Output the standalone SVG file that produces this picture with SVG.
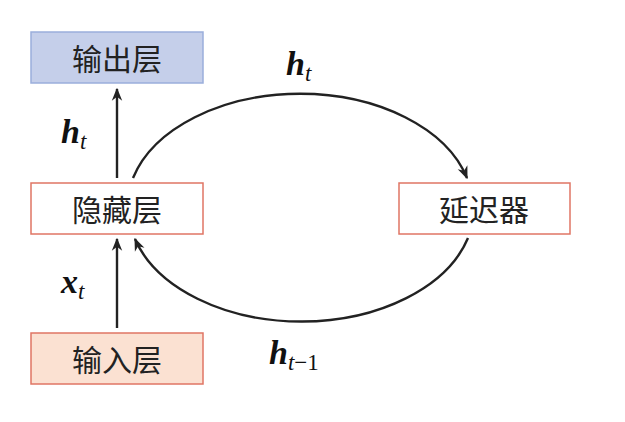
<svg xmlns="http://www.w3.org/2000/svg" width="625" height="422" viewBox="0 0 625 422">
<defs>
<marker id="arr" viewBox="0 0 10 10" refX="9" refY="5" markerWidth="13" markerHeight="13" markerUnits="userSpaceOnUse" orient="auto">
<path d="M0,1 L10,5 L0,9 L3,5 z" fill="#222"/>
</marker>
<style>
.box{stroke-width:1.5}
.red{stroke:#e07564}
.cn{font-family:"Noto Sans CJK SC","Noto Sans",sans-serif;font-size:30px;fill:#222;text-anchor:middle;dominant-baseline:central}
.m{font-family:"Liberation Serif",serif;font-style:italic;fill:#111}
.mb{font-weight:bold;font-size:34px}
.sub{font-size:23px}
.line{stroke:#222;stroke-width:2.4;fill:none}
</style>
</defs>
<rect width="625" height="422" fill="#fff"/>
<g id="output">
<rect class="box" x="31" y="32" width="172" height="51" fill="#c5cfea" stroke="#9aaedb"/>
<text class="cn" x="117" y="57">输出层</text>
</g>
<g id="hidden">
<rect class="box red" x="31" y="183" width="172" height="51" fill="#fff"/>
<text class="cn" x="117" y="208">隐藏层</text>
</g>
<g id="input">
<rect class="box red" x="31" y="333" width="172" height="51" fill="#fbe1d2"/>
<text class="cn" x="117" y="358">输入层</text>
</g>
<g id="delay">
<rect class="box red" x="399" y="183" width="171" height="51" fill="#fff"/>
<text class="cn" x="484" y="208">延迟器</text>
</g>
<g id="connectors">
<path class="line" d="M117,178 L117,89" marker-end="url(#arr)"/>
<path class="line" d="M117,328 L117,239" marker-end="url(#arr)"/>
<path class="line" d="M133,178 A173,114 0 0 1 467,178" marker-end="url(#arr)"/>
<path class="line" d="M468,238 A173,114 0 0 1 135,239" marker-end="url(#arr)"/>
</g>
<g id="labels">
<text class="m" x="286" y="75"><tspan class="mb">h</tspan><tspan class="sub" dy="6">t</tspan></text>
<text class="m" x="61" y="143"><tspan class="mb">h</tspan><tspan class="sub" dy="6">t</tspan></text>
<text class="m" x="61" y="293"><tspan class="mb">x</tspan><tspan class="sub" dy="6">t</tspan></text>
<text class="m" x="269" y="364"><tspan class="mb">h</tspan><tspan class="sub" dy="6">t</tspan><tspan class="sub" font-style="normal">−1</tspan></text>
</g>
</svg>
